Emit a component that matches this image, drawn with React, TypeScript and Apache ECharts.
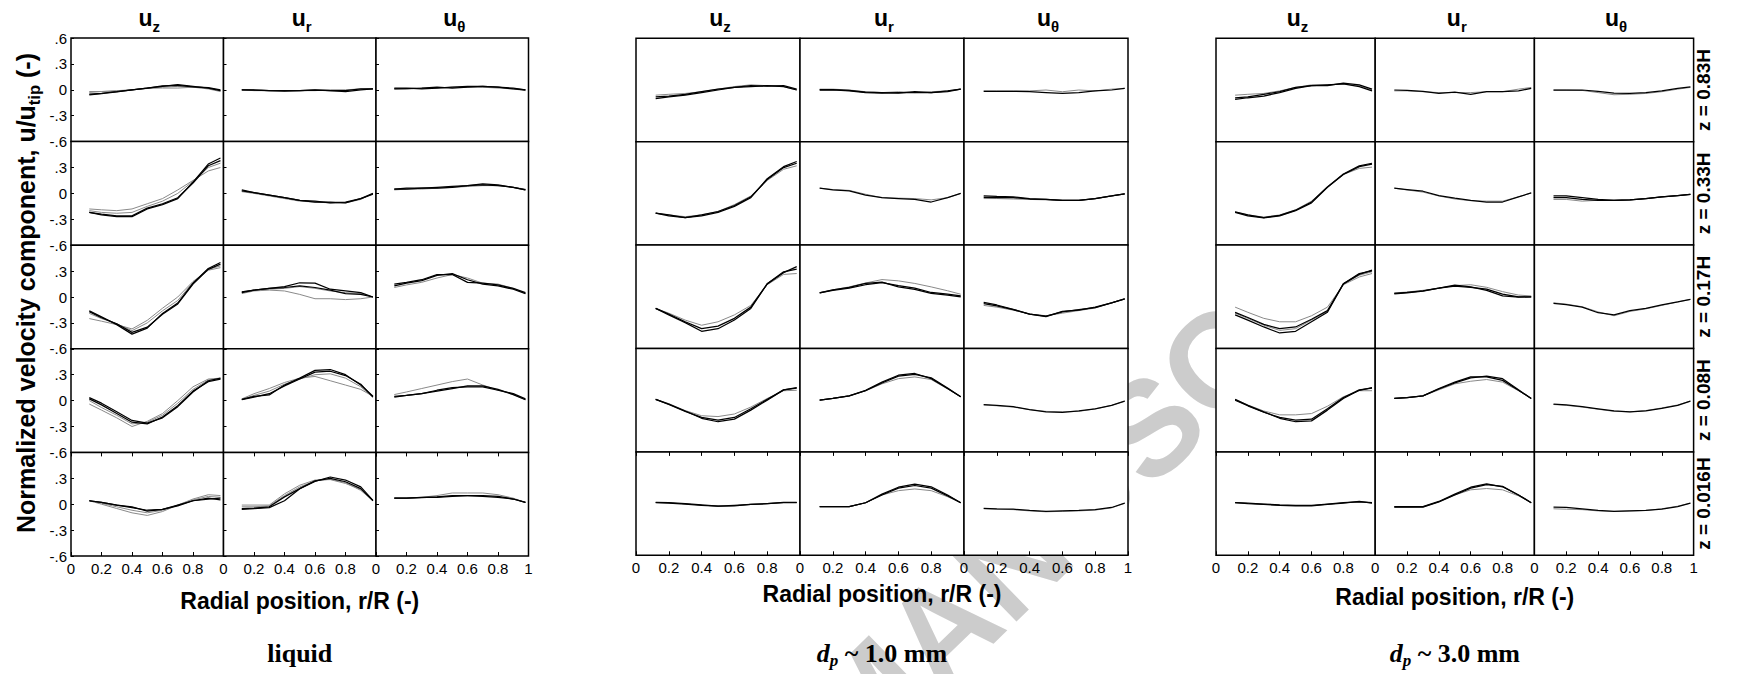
import React, { useEffect, useRef } from 'react';
import * as echarts from 'echarts';

// radial positions r/R where the profiles were sampled
const R_POS = [0.12, 0.2, 0.3, 0.4, 0.5, 0.6, 0.7, 0.8, 0.9, 0.98];
const COMPONENT_SUBS = ['z', 'r', 'θ'];
const HEIGHT_LABELS = ['z = 0.83H', 'z = 0.33H', 'z = 0.17H', 'z = 0.08H', 'z = 0.016H'];
const CASE_TITLES = ['liquid', '1.0 mm', '3.0 mm'];
const X_TITLE = 'Radial position, r/R (-)';

type Row = { dark: number[][]; light: number[][] };

// ---------- liquid ----------
const liquidUz: Row[] = [
  { dark: [[-0.06, -0.045, -0.025, 0.0, 0.02, 0.04, 0.06, 0.04, 0.02, -0.01], [-0.05, -0.04, -0.02, 0.0, 0.02, 0.045, 0.05, 0.035, 0.025, 0.0]],
    light: [[-0.02, -0.02, -0.01, 0.0, 0.02, 0.02, 0.02, 0.03, 0.01, -0.02], [-0.03, -0.02, -0.015, 0.0, 0.015, 0.03, 0.04, 0.03, 0.02, -0.01]] },
  { dark: [[-0.22, -0.25, -0.27, -0.27, -0.18, -0.13, -0.06, 0.13, 0.34, 0.41], [-0.22, -0.24, -0.26, -0.26, -0.17, -0.12, -0.05, 0.12, 0.32, 0.38]],
    light: [[-0.18, -0.19, -0.2, -0.18, -0.12, -0.06, 0.04, 0.15, 0.26, 0.30], [-0.2, -0.22, -0.23, -0.22, -0.15, -0.09, 0.0, 0.14, 0.3, 0.35]] },
  { dark: [[-0.16, -0.23, -0.32, -0.43, -0.36, -0.19, -0.07, 0.16, 0.33, 0.40], [-0.17, -0.24, -0.31, -0.41, -0.35, -0.2, -0.08, 0.15, 0.32, 0.38]],
    light: [[-0.25, -0.28, -0.32, -0.37, -0.27, -0.13, 0.0, 0.18, 0.31, 0.34], [-0.19, -0.25, -0.31, -0.39, -0.3, -0.16, -0.04, 0.17, 0.32, 0.36]] },
  { dark: [[0.035, -0.03, -0.13, -0.23, -0.26, -0.2, -0.07, 0.1, 0.23, 0.26], [0.02, -0.05, -0.15, -0.25, -0.27, -0.19, -0.06, 0.11, 0.22, 0.25]],
    light: [[-0.04, -0.11, -0.2, -0.3, -0.24, -0.15, 0.0, 0.16, 0.25, 0.26], [0.0, -0.08, -0.17, -0.27, -0.25, -0.17, -0.03, 0.13, 0.24, 0.25]] },
  { dark: [[0.04, 0.02, -0.01, -0.03, -0.08, -0.06, -0.01, 0.04, 0.07, 0.05], [0.04, 0.02, -0.01, -0.04, -0.07, -0.06, -0.02, 0.04, 0.06, 0.07]],
    light: [[0.04, 0.0, -0.05, -0.1, -0.13, -0.085, -0.01, 0.06, 0.11, 0.1], [0.04, 0.01, -0.03, -0.07, -0.1, -0.07, -0.01, 0.05, 0.09, 0.08]] },
];
const liquidUr: Row[] = [
  { dark: [[0.0, 0.0, -0.01, -0.01, -0.01, 0.0, -0.01, -0.01, 0.01, 0.01], [0.0, -0.005, -0.01, -0.015, -0.01, -0.005, -0.01, -0.02, 0.0, 0.01]],
    light: [[0.0, -0.01, -0.01, -0.01, -0.01, -0.01, 0.0, 0.0, 0.01, 0.01]] },
  { dark: [[0.04, 0.01, -0.02, -0.05, -0.08, -0.1, -0.1, -0.11, -0.06, 0.0], [0.03, 0.01, -0.02, -0.05, -0.08, -0.09, -0.11, -0.1, -0.06, -0.01]],
    light: [[0.02, 0.0, -0.03, -0.06, -0.09, -0.1, -0.11, -0.11, -0.07, 0.0]] },
  { dark: [[0.06, 0.08, 0.1, 0.12, 0.165, 0.16, 0.09, 0.07, 0.05, 0.0], [0.05, 0.08, 0.1, 0.11, 0.13, 0.11, 0.08, 0.04, 0.03, 0.0]],
    light: [[0.04, 0.07, 0.08, 0.07, 0.03, -0.02, -0.02, -0.03, -0.02, 0.0], [0.06, 0.08, 0.09, 0.1, 0.12, 0.1, 0.07, 0.05, 0.04, 0.0]] },
  { dark: [[0.015, 0.05, 0.065, 0.18, 0.26, 0.35, 0.36, 0.3, 0.18, 0.05], [0.01, 0.04, 0.08, 0.17, 0.25, 0.33, 0.34, 0.29, 0.19, 0.04]],
    light: [[0.02, 0.08, 0.14, 0.21, 0.26, 0.28, 0.23, 0.18, 0.13, 0.05], [0.015, 0.06, 0.11, 0.19, 0.25, 0.3, 0.31, 0.26, 0.16, 0.04]] },
  { dark: [[-0.05, -0.045, -0.03, 0.085, 0.18, 0.265, 0.315, 0.28, 0.2, 0.045], [-0.06, -0.05, -0.04, 0.04, 0.18, 0.27, 0.3, 0.26, 0.18, 0.04]],
    light: [[-0.01, -0.01, -0.01, 0.12, 0.22, 0.28, 0.285, 0.24, 0.17, 0.045], [-0.03, -0.03, -0.02, 0.1, 0.2, 0.27, 0.29, 0.25, 0.16, 0.04]] },
];
const liquidUt: Row[] = [
  { dark: [[0.02, 0.02, 0.01, 0.02, 0.03, 0.04, 0.04, 0.03, 0.02, 0.0], [0.01, 0.015, 0.02, 0.03, 0.02, 0.03, 0.04, 0.03, 0.01, 0.0]],
    light: [[0.01, 0.01, 0.02, 0.02, 0.03, 0.03, 0.03, 0.02, 0.01, -0.01]] },
  { dark: [[0.05, 0.05, 0.06, 0.06, 0.07, 0.09, 0.1, 0.09, 0.07, 0.04], [0.05, 0.06, 0.06, 0.07, 0.08, 0.09, 0.11, 0.1, 0.07, 0.04]],
    light: [[0.04, 0.05, 0.05, 0.06, 0.07, 0.08, 0.09, 0.09, 0.07, 0.05]] },
  { dark: [[0.13, 0.16, 0.19, 0.25, 0.27, 0.2, 0.15, 0.13, 0.09, 0.04], [0.15, 0.17, 0.2, 0.26, 0.26, 0.17, 0.16, 0.14, 0.1, 0.05]],
    light: [[0.11, 0.14, 0.17, 0.22, 0.26, 0.22, 0.16, 0.15, 0.1, 0.04]] },
  { dark: [[0.04, 0.06, 0.08, 0.11, 0.14, 0.17, 0.17, 0.13, 0.07, 0.01], [0.05, 0.06, 0.08, 0.12, 0.15, 0.16, 0.16, 0.12, 0.08, 0.02]],
    light: [[0.07, 0.1, 0.14, 0.18, 0.22, 0.25, 0.18, 0.12, 0.07, 0.01]] },
  { dark: [[0.07, 0.07, 0.08, 0.08, 0.09, 0.1, 0.1, 0.09, 0.06, 0.02], [0.07, 0.07, 0.075, 0.085, 0.1, 0.1, 0.09, 0.08, 0.06, 0.02]],
    light: [[0.07, 0.07, 0.08, 0.1, 0.13, 0.13, 0.13, 0.11, 0.07, 0.02]] },
];

// ---------- dp ~ 1.0 mm ----------
const dp1Uz: Row[] = [
  { dark: [[-0.1, -0.08, -0.06, -0.03, 0.0, 0.03, 0.04, 0.05, 0.04, 0.0], [-0.08, -0.07, -0.05, -0.02, 0.01, 0.03, 0.05, 0.045, 0.05, 0.01]],
    light: [[-0.06, -0.05, -0.04, -0.02, 0.01, 0.04, 0.06, 0.05, 0.04, 0.0]] },
  { dark: [[-0.23, -0.25, -0.28, -0.26, -0.22, -0.15, -0.05, 0.17, 0.31, 0.37], [-0.23, -0.26, -0.28, -0.25, -0.21, -0.14, -0.04, 0.16, 0.3, 0.35]],
    light: [[-0.23, -0.25, -0.27, -0.25, -0.21, -0.13, -0.03, 0.15, 0.28, 0.32]] },
  { dark: [[-0.135, -0.21, -0.3, -0.4, -0.37, -0.27, -0.135, 0.15, 0.28, 0.35], [-0.135, -0.2, -0.29, -0.37, -0.34, -0.25, -0.12, 0.15, 0.29, 0.32]],
    light: [[-0.135, -0.19, -0.27, -0.33, -0.29, -0.21, -0.1, 0.14, 0.26, 0.27]] },
  { dark: [[0.01, -0.045, -0.125, -0.21, -0.25, -0.22, -0.115, 0.0, 0.12, 0.145], [0.01, -0.05, -0.13, -0.2, -0.23, -0.2, -0.1, 0.01, 0.12, 0.14]],
    light: [[0.01, -0.04, -0.12, -0.18, -0.19, -0.16, -0.08, 0.02, 0.11, 0.115]] },
  { dark: [[0.015, 0.01, 0.0, -0.015, -0.03, -0.025, -0.01, 0.0, 0.01, 0.01], [0.01, 0.005, -0.005, -0.02, -0.03, -0.02, -0.01, 0.0, 0.015, 0.015]],
    light: [] },
];
const dp1Ur: Row[] = [
  { dark: [[0.0, 0.0, -0.01, -0.03, -0.035, -0.03, -0.03, -0.03, -0.02, 0.01], [0.005, 0.005, -0.005, -0.025, -0.03, -0.035, -0.02, -0.03, -0.01, 0.01]],
    light: [[0.01, 0.01, 0.0, -0.02, -0.03, -0.02, -0.03, -0.02, -0.01, 0.01]] },
  { dark: [[0.06, 0.04, 0.03, -0.02, -0.05, -0.06, -0.07, -0.1, -0.05, 0.0]],
    light: [[0.06, 0.045, 0.035, -0.01, -0.05, -0.055, -0.06, -0.075, -0.05, 0.0]] },
  { dark: [[0.045, 0.08, 0.11, 0.155, 0.17, 0.115, 0.085, 0.04, 0.02, 0.0], [0.045, 0.075, 0.1, 0.14, 0.165, 0.13, 0.1, 0.05, 0.03, 0.01]],
    light: [[0.05, 0.08, 0.115, 0.16, 0.2, 0.185, 0.155, 0.115, 0.07, 0.03]] },
  { dark: [[0.0, 0.02, 0.05, 0.115, 0.21, 0.29, 0.31, 0.25, 0.135, 0.04], [0.0, 0.02, 0.05, 0.11, 0.2, 0.28, 0.3, 0.26, 0.14, 0.04]],
    light: [[0.0, 0.02, 0.05, 0.11, 0.19, 0.25, 0.27, 0.24, 0.13, 0.04]] },
  { dark: [[-0.035, -0.035, -0.035, 0.01, 0.11, 0.19, 0.225, 0.195, 0.1, 0.01], [-0.035, -0.035, -0.035, 0.01, 0.1, 0.18, 0.21, 0.18, 0.09, 0.01]],
    light: [[-0.035, -0.035, -0.035, 0.01, 0.1, 0.15, 0.17, 0.15, 0.08, 0.01]] },
];
const dp1Ut: Row[] = [
  { dark: [[-0.015, -0.015, -0.015, -0.02, -0.03, -0.04, -0.03, -0.01, 0.0, 0.02]],
    light: [[-0.01, -0.01, -0.01, -0.01, 0.0, -0.02, 0.0, -0.01, 0.01, 0.02]] },
  { dark: [[-0.03, -0.035, -0.04, -0.06, -0.07, -0.08, -0.08, -0.06, -0.03, -0.005], [-0.045, -0.05, -0.05, -0.065, -0.07, -0.08, -0.08, -0.06, -0.03, -0.005]],
    light: [[-0.06, -0.06, -0.065, -0.07, -0.075, -0.08, -0.08, -0.06, -0.03, -0.005]] },
  { dark: [[-0.065, -0.095, -0.145, -0.2, -0.23, -0.17, -0.155, -0.12, -0.07, -0.025], [-0.08, -0.105, -0.15, -0.2, -0.225, -0.175, -0.15, -0.125, -0.07, -0.025]],
    light: [[-0.1, -0.12, -0.155, -0.2, -0.22, -0.19, -0.16, -0.13, -0.07, -0.025]] },
  { dark: [[-0.05, -0.06, -0.075, -0.11, -0.135, -0.14, -0.125, -0.1, -0.06, -0.01]],
    light: [[-0.055, -0.065, -0.08, -0.11, -0.13, -0.135, -0.13, -0.1, -0.06, -0.01]] },
  { dark: [[-0.055, -0.06, -0.065, -0.08, -0.09, -0.085, -0.08, -0.07, -0.045, 0.005]],
    light: [[-0.06, -0.065, -0.07, -0.085, -0.095, -0.09, -0.085, -0.075, -0.05, 0.005]] },
];

// ---------- dp ~ 3.0 mm ----------
const dp3Uz: Row[] = [
  { dark: [[-0.11, -0.09, -0.07, -0.03, 0.02, 0.05, 0.06, 0.07, 0.04, -0.01], [-0.09, -0.08, -0.05, -0.02, 0.03, 0.05, 0.05, 0.08, 0.06, 0.01]],
    light: [[-0.06, -0.05, -0.04, -0.01, 0.03, 0.06, 0.06, 0.07, 0.05, 0.0]] },
  { dark: [[-0.215, -0.25, -0.28, -0.255, -0.195, -0.1, 0.075, 0.225, 0.32, 0.35], [-0.22, -0.26, -0.285, -0.26, -0.2, -0.11, 0.07, 0.22, 0.31, 0.34]],
    light: [[-0.215, -0.25, -0.275, -0.25, -0.19, -0.09, 0.08, 0.22, 0.29, 0.305]] },
  { dark: [[-0.21, -0.27, -0.35, -0.42, -0.4, -0.29, -0.18, 0.15, 0.26, 0.31], [-0.18, -0.24, -0.32, -0.37, -0.35, -0.26, -0.16, 0.15, 0.27, 0.30]],
    light: [[-0.12, -0.18, -0.25, -0.29, -0.29, -0.22, -0.12, 0.14, 0.23, 0.27], [-0.19, -0.25, -0.33, -0.39, -0.37, -0.27, -0.17, 0.15, 0.25, 0.29]] },
  { dark: [[0.01, -0.06, -0.135, -0.21, -0.25, -0.24, -0.115, 0.02, 0.115, 0.145], [0.0, -0.065, -0.14, -0.2, -0.23, -0.22, -0.1, 0.03, 0.12, 0.14]],
    light: [[0.01, -0.055, -0.125, -0.17, -0.17, -0.155, -0.07, 0.04, 0.11, 0.11]] },
  { dark: [[0.01, 0.0, -0.01, -0.02, -0.025, -0.025, -0.01, 0.005, 0.025, 0.005], [0.01, 0.005, -0.005, -0.015, -0.02, -0.02, -0.005, 0.01, 0.02, 0.01]],
    light: [] },
];
const dp3Ur: Row[] = [
  { dark: [[0.0, -0.005, -0.015, -0.04, -0.025, -0.05, -0.02, -0.02, -0.01, 0.02]],
    light: [[-0.01, -0.01, -0.02, -0.03, -0.03, -0.03, -0.02, -0.02, 0.01, 0.03]] },
  { dark: [[0.06, 0.045, 0.025, -0.025, -0.055, -0.08, -0.1, -0.1, -0.04, 0.005]],
    light: [[0.06, 0.04, 0.015, -0.03, -0.065, -0.085, -0.09, -0.09, -0.04, 0.005]] },
  { dark: [[0.04, 0.05, 0.07, 0.1, 0.135, 0.115, 0.075, 0.01, -0.005, 0.0], [0.035, 0.045, 0.065, 0.1, 0.125, 0.11, 0.09, 0.03, 0.0, 0.0]],
    light: [[0.045, 0.055, 0.075, 0.1, 0.13, 0.14, 0.11, 0.06, 0.02, 0.01]] },
  { dark: [[0.02, 0.03, 0.05, 0.135, 0.21, 0.27, 0.27, 0.23, 0.115, 0.02], [0.02, 0.03, 0.05, 0.13, 0.2, 0.26, 0.28, 0.25, 0.12, 0.02]],
    light: [[0.02, 0.03, 0.05, 0.12, 0.19, 0.22, 0.24, 0.21, 0.11, 0.02]] },
  { dark: [[-0.035, -0.035, -0.035, 0.025, 0.11, 0.19, 0.23, 0.195, 0.1, 0.01], [-0.04, -0.04, -0.04, 0.02, 0.1, 0.18, 0.22, 0.2, 0.1, 0.01]],
    light: [[-0.04, -0.04, -0.035, 0.02, 0.1, 0.16, 0.175, 0.16, 0.09, 0.01]] },
];
const dp3Ut: Row[] = [
  { dark: [[0.0, 0.0, 0.0, -0.015, -0.035, -0.04, -0.03, -0.01, 0.02, 0.035]],
    light: [[0.0, 0.0, -0.005, -0.03, -0.055, -0.05, -0.04, -0.02, 0.01, 0.03]] },
  { dark: [[-0.03, -0.03, -0.05, -0.07, -0.08, -0.075, -0.06, -0.04, -0.025, -0.01], [-0.05, -0.05, -0.07, -0.08, -0.08, -0.075, -0.06, -0.04, -0.025, -0.01]],
    light: [[-0.07, -0.07, -0.09, -0.08, -0.08, -0.075, -0.06, -0.04, -0.025, -0.01]] },
  { dark: [[-0.075, -0.09, -0.12, -0.185, -0.21, -0.16, -0.135, -0.095, -0.06, -0.03]],
    light: [[-0.07, -0.085, -0.115, -0.175, -0.22, -0.17, -0.14, -0.1, -0.06, -0.03]] },
  { dark: [[-0.045, -0.055, -0.075, -0.1, -0.125, -0.135, -0.125, -0.095, -0.06, -0.01]],
    light: [[-0.05, -0.06, -0.08, -0.105, -0.13, -0.135, -0.12, -0.09, -0.055, -0.01]] },
  { dark: [[-0.04, -0.045, -0.06, -0.08, -0.09, -0.085, -0.08, -0.065, -0.035, 0.005]],
    light: [[-0.06, -0.065, -0.07, -0.085, -0.09, -0.085, -0.08, -0.06, -0.03, 0.005]] },
];

const PANEL_DATA = [
  [liquidUz, liquidUr, liquidUt],
  [dp1Uz, dp1Ur, dp1Ut],
  [dp3Uz, dp3Ur, dp3Ut],
];

const SANS = 'Liberation Sans';
const SERIF = 'Liberation Serif';

function fmtX(v: number, last: boolean) {
  const r = Math.round(v * 10) / 10;
  if (r === 1) return last ? '1' : '';
  if (r === 0) return '0';
  return r.toFixed(1);
}
function fmtY(v: number, first: boolean) {
  const r = Math.round(v * 10) / 10;
  if (r === 0) return '0';
  if (r === 0.6 && !first) return '';
  const s = Math.abs(r).toString().replace(/^0/, '');
  return (r < 0 ? '-' : '') + s;
}

function buildOption() {
  const layout = [
    { left: 71, colW: 152.5, top: 38, rowH: 103.6, xTitleY: 601 },
    { left: 636, colW: 164, top: 38.3, rowH: 103.4, xTitleY: 594 },
    { left: 1216, colW: 159.2, top: 38.3, rowH: 103.4, xTitleY: 597 },
  ];
  const grids: any[] = [];
  const xAxes: any[] = [];
  const topAxes: any[] = [];
  const yAxes: any[] = [];
  const series: any[] = [];
  const graphics: any[] = [];

  layout.forEach((pl, p) => {
    for (let c = 0; c < 3; c++) {
      for (let r = 0; r < 5; r++) {
        const gi = grids.length;
        const bottom = r === 4;
        grids.push({
          left: pl.left + c * pl.colW, top: pl.top + r * pl.rowH,
          width: pl.colW, height: pl.rowH,
          show: true, borderColor: '#000', borderWidth: 1.5, backgroundColor: '#fff',
        });
        xAxes.push({
          gridIndex: gi, type: 'value', position: 'bottom', min: 0, max: 1, interval: 0.2,
          axisLine: { show: false, onZero: false }, splitLine: { show: false },
          axisTick: { show: bottom, inside: true, length: 4, lineStyle: { color: '#000', width: 1 } },
          axisLabel: {
            show: bottom, margin: 5, fontSize: 15, color: '#000', fontFamily: SANS,
            formatter: (v: number) => fmtX(v, c === 2),
          },
        });
        if (bottom) {
          topAxes.push({
            gridIndex: gi, type: 'value', position: 'top', min: 0, max: 1, interval: 0.2,
            axisLine: { show: false, onZero: false }, splitLine: { show: false },
            axisTick: { show: true, inside: true, length: 4, lineStyle: { color: '#000', width: 1 } },
            axisLabel: { show: false },
          });
        }
        yAxes.push({
          gridIndex: gi, type: 'value', position: 'left', min: -0.6, max: 0.6, interval: 0.3,
          axisLine: { show: false, onZero: false }, splitLine: { show: false },
          axisTick: { show: p === 0, inside: true, length: 3, lineStyle: { color: '#000', width: 1 } },
          axisLabel: {
            show: p === 0 && c === 0, margin: 4, fontSize: 15, color: '#000', fontFamily: SANS,
            formatter: (v: number) => fmtY(v, r === 0),
          },
        });
        const row = PANEL_DATA[p][c][r];
        const mk = (vals: number[], color: string, width: number, z: number) => ({
          type: 'line', xAxisIndex: gi, yAxisIndex: gi, silent: true,
          showSymbol: false, symbol: 'none', z,
          lineStyle: { color, width },
          data: R_POS.map((x, k) => [x, vals[k]]),
        });
        row.light.forEach((vals) => series.push(mk(vals, '#8a8a8a', 1, 2)));
        row.dark.forEach((vals) => series.push(mk(vals, '#000', 1.25, 3)));
      }
      // column title u_z / u_r / u_theta
      graphics.push({
        type: 'text', x: pl.left + (c + 0.5) * pl.colW + 2, y: 17.5,
        style: {
          text: `{a|u}{b|${COMPONENT_SUBS[c]}}`, fill: '#000',
          align: 'center', verticalAlign: 'middle', textAlign: 'center', textVerticalAlign: 'middle',
          rich: {
            a: { fontSize: 23, fontWeight: 'bold', fontFamily: SANS, fill: '#000', lineHeight: 32 },
            b: { fontSize: 15, fontWeight: 'bold', fontFamily: SANS, fill: '#000', lineHeight: 14, verticalAlign: 'bottom' },
          },
        },
      });
    }
    const cx = pl.left + 1.5 * pl.colW;
    graphics.push({
      type: 'text', x: cx, y: pl.xTitleY,
      style: {
        text: X_TITLE, fontSize: 23, fontWeight: 'bold', fontFamily: SANS, fill: '#000',
        align: 'center', verticalAlign: 'middle', textAlign: 'center', textVerticalAlign: 'middle',
      },
    });
    if (p === 0) {
      graphics.push({
        type: 'text', x: cx, y: 653,
        style: {
          text: CASE_TITLES[p], fontSize: 26, fontWeight: 'bold', fontFamily: SERIF, fill: '#000',
          align: 'center', verticalAlign: 'middle', textAlign: 'center', textVerticalAlign: 'middle',
        },
      });
    } else {
      graphics.push({
        type: 'text', x: cx, y: 653,
        style: {
          text: `{i|d}{s|p}{a| ~ ${CASE_TITLES[p]}}`, fill: '#000',
          align: 'center', verticalAlign: 'middle', textAlign: 'center', textVerticalAlign: 'middle',
          rich: {
            i: { fontSize: 26, fontWeight: 'bold', fontStyle: 'italic', fontFamily: SERIF, fill: '#000', lineHeight: 32 },
            s: { fontSize: 17, fontWeight: 'bold', fontStyle: 'italic', fontFamily: SERIF, fill: '#000', lineHeight: 17, verticalAlign: 'bottom' },
            a: { fontSize: 26, fontWeight: 'bold', fontFamily: SERIF, fill: '#000', lineHeight: 32 },
          },
        },
      });
    }
    if (p === 2) {
      for (let r = 0; r < 5; r++) {
        graphics.push({
          type: 'text', x: 1703, y: pl.top + (r + 0.5) * pl.rowH, rotation: Math.PI / 2,
          style: {
            text: HEIGHT_LABELS[r], fontSize: 19, fontWeight: 'bold', fontFamily: SANS, fill: '#000',
            align: 'center', verticalAlign: 'middle', textAlign: 'center', textVerticalAlign: 'middle',
          },
        });
      }
    }
  });

  // y-axis title
  graphics.push({
    type: 'text', x: 26, y: 293, rotation: Math.PI / 2,
    style: {
      text: '{a|Normalized velocity component, u/u}{b|tip}{a| (-)}', fill: '#000',
      align: 'center', verticalAlign: 'middle', textAlign: 'center', textVerticalAlign: 'middle',
      rich: {
        a: { fontSize: 25, fontWeight: 'bold', fontFamily: SANS, fill: '#000', lineHeight: 32 },
        b: { fontSize: 16.5, fontWeight: 'bold', fontFamily: SANS, fill: '#000', lineHeight: 16, verticalAlign: 'bottom' },
      },
    },
  });
  // watermark
  graphics.push({
    type: 'text', x: 870, y: 699, rotation: 0.771, z: -10,
    style: {
      text: 'ACCEPTED MANUSCRIPT', fontSize: 135, fontWeight: 'bold', fontFamily: SANS, fill: '#cccccc',
      align: 'center', verticalAlign: 'middle', textAlign: 'center', textVerticalAlign: 'middle',
    },
  });

  return {
    animation: false,
    backgroundColor: '#fff',
    grid: grids,
    xAxis: [...xAxes, ...topAxes],
    yAxis: yAxes,
    series,
    graphic: { elements: graphics },
  };
}

export default function App() {
  const ref = useRef<HTMLDivElement>(null);
  useEffect(() => {
    if (!ref.current) return;
    const chart = echarts.init(ref.current, undefined, { renderer: 'svg' });
    chart.setOption(buildOption() as any);
    return () => chart.dispose();
  }, []);
  return (
    <div
      ref={ref}
      style={{ position: 'fixed', left: 0, top: 0, width: 1737, height: 674, background: '#fff' }}
    />
  );
}
